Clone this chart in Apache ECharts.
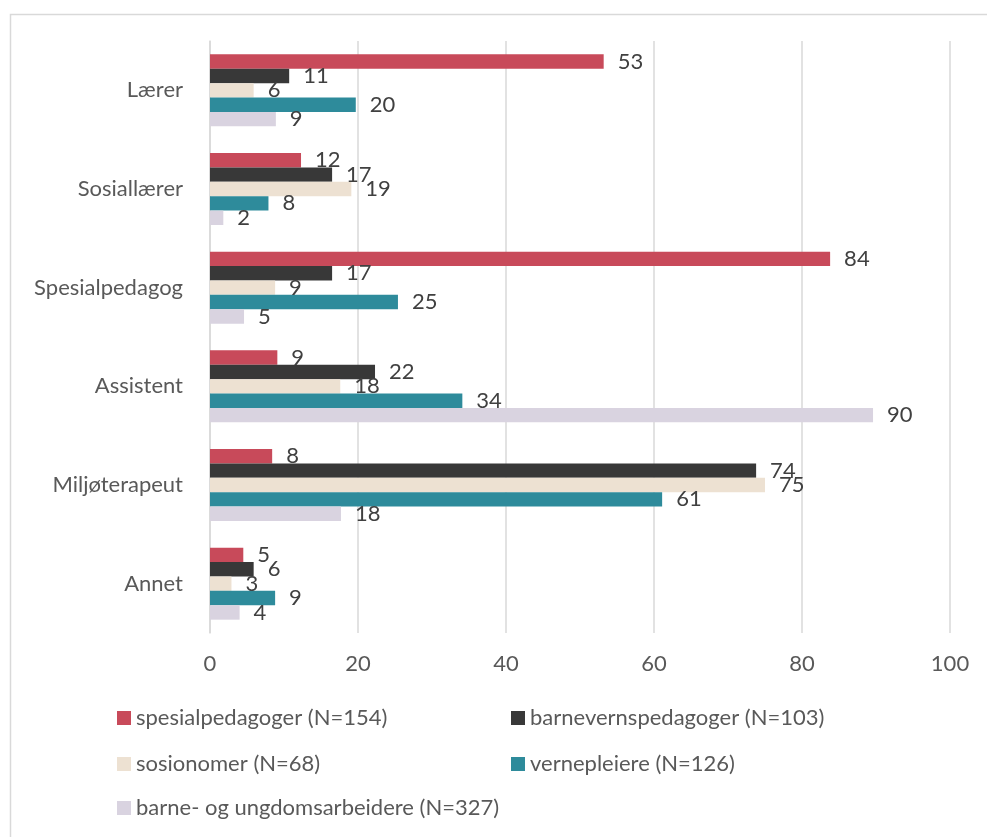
<!DOCTYPE html>
<html>
<head>
<meta charset="utf-8">
<script src="https://cdn.jsdelivr.net/npm/echarts@6/dist/echarts.min.js"></script>
<style>
  html, body { margin: 0; padding: 0; background: #fff; }
  #chart { width: 987px; height: 837px; }
</style>
</head>
<body>
<div id="chart"></div>
<script>
var categories = ["Lærer", "Sosiallærer", "Spesialpedagog", "Assistent", "Miljøterapeut", "Annet"];
var xTicks = [0, 20, 40, 60, 80, 100];

var seriesNames = [
  "spesialpedagoger (N=154)",
  "barnevernspedagoger (N=103)",
  "sosionomer (N=68)",
  "vernepleiere (N=126)",
  "barne- og ungdomsarbeidere (N=327)"
];
var spesialpedagoger = [53.2, 12.3, 83.8, 9.1, 8.4, 4.5];
var barnevernspedagoger = [10.7, 16.5, 16.5, 22.3, 73.8, 5.9];
var sosionomer = [5.9, 19.1, 8.8, 17.6, 75.0, 2.9];
var vernepleiere = [19.7, 7.9, 25.4, 34.1, 61.1, 8.8];
var ungdomsarbeidere = [8.9, 1.8, 4.6, 89.6, 17.7, 4.0];

var values = [spesialpedagoger, barnevernspedagoger, sosionomer, vernepleiere, ungdomsarbeidere];
var colors = ["#C84A5A", "#383838", "#EDE1D2", "#2E8B9B", "#D9D3E0"];

var font = "Lato, 'Open Sans', sans-serif";
var chart = echarts.init(document.getElementById("chart"));

// one legend per item so the two columns line up like the original
var legendPos = [
  { left: 112, top: 702 },
  { left: 506, top: 702 },
  { left: 112, top: 748 },
  { left: 506, top: 748 },
  { left: 112, top: 792 }
];

chart.setOption({
  animation: false,
  textStyle: { fontFamily: font },
  graphic: [{
    type: "rect",
    left: 8, top: 12,
    shape: { width: 990, height: 840 },
    style: { fill: "none", stroke: "#D9D9D9", lineWidth: 1.5 },
    silent: true
  }],
  legend: seriesNames.map(function (name, i) {
    return {
      data: [name],
      left: legendPos[i].left,
      top: legendPos[i].top,
      itemWidth: 14,
      itemHeight: 14,
      icon: "rect",
      textStyle: { fontSize: 22, color: "#595959", fontFamily: font }
    };
  }),
  grid: { left: 210, right: 37, top: 41, bottom: 204 },
  xAxis: {
    type: "value",
    min: 0,
    max: 100,
    interval: 20,
    axisLine: { show: false },
    axisTick: { show: false },
    axisLabel: {
      fontSize: 22, color: "#595959", margin: 20,
      formatter: function (v) { return xTicks.indexOf(v) >= 0 ? String(v) : ""; }
    },
    splitLine: { lineStyle: { color: "#D9D9D9", width: 1.5 } }
  },
  yAxis: {
    type: "category",
    data: categories,
    inverse: true,
    axisLine: { lineStyle: { color: "#D9D9D9", width: 1.5 } },
    axisTick: { show: false },
    axisLabel: { fontSize: 22, color: "#595959", margin: 27 }
  },
  series: values.map(function (arr, i) {
    return {
      name: seriesNames[i],
      type: "bar",
      data: arr,
      barGap: "0%",
      barCategoryGap: "27%",
      itemStyle: { color: colors[i] },
      label: {
        show: true,
        position: "right",
        distance: 14,
        fontSize: 22,
        color: "#404040",
        formatter: function (p) { return Math.round(p.value); }
      }
    };
  })
});
</script>
</body>
</html>
